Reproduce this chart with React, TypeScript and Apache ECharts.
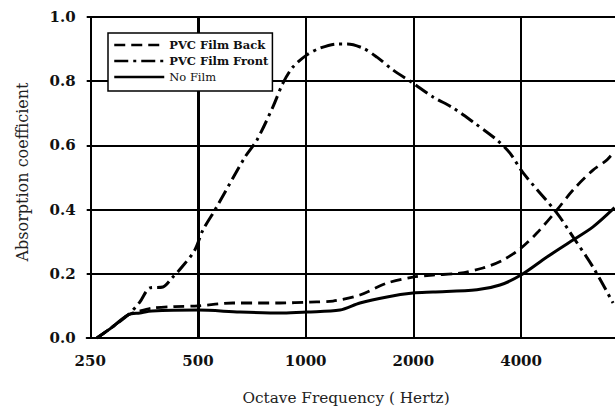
import React, { useEffect, useRef } from "react";
import * as echarts from "echarts";

// Octave-band tick labels (Hz)
const X_TICK_LABELS = [250, 500, 1000, 2000, 4000];
const BASE_FREQ = 250;

// PVC Film Back (dashed)
const FREQ_BACK = [261, 288, 319, 344, 372, 431, 500, 626, 847, 1028, 1192, 1418, 1688, 1995, 2269, 2699, 3130, 3560, 3998, 4429, 5038, 5588, 6354, 6954, 7300];
const ABS_BACK = [0, 0.034, 0.072, 0.084, 0.093, 0.098, 0.1, 0.109, 0.109, 0.112, 0.115, 0.134, 0.171, 0.19, 0.196, 0.202, 0.218, 0.243, 0.28, 0.327, 0.399, 0.461, 0.523, 0.555, 0.582];

// PVC Film Front (dash-dot)
const FREQ_FRONT = [261, 288, 319, 344, 367, 399, 423, 451, 490, 516, 558, 677, 731, 810, 864, 921, 1008, 1097, 1223, 1305, 1446, 1582, 1754, 1995, 2269, 2580, 2935, 3425, 3724, 4049, 5038, 5588, 6354, 7230];
const ABS_FRONT = [0, 0.034, 0.072, 0.112, 0.156, 0.159, 0.187, 0.221, 0.274, 0.336, 0.399, 0.564, 0.617, 0.72, 0.794, 0.844, 0.882, 0.903, 0.916, 0.916, 0.903, 0.875, 0.835, 0.794, 0.751, 0.717, 0.673, 0.617, 0.576, 0.515, 0.389, 0.315, 0.221, 0.109];

// No Film (solid)
const FREQ_NONE = [261, 288, 319, 344, 372, 500, 655, 864, 1008, 1247, 1418, 1688, 1995, 2269, 3011, 3492, 3998, 4723, 5588, 6354, 7300];
const ABS_NONE = [0, 0.034, 0.072, 0.078, 0.084, 0.087, 0.081, 0.078, 0.081, 0.087, 0.109, 0.128, 0.14, 0.143, 0.15, 0.165, 0.196, 0.252, 0.305, 0.346, 0.406];

const toOct = (f: number) => Math.log2(f / BASE_FREQ);
const pairs = (fs: number[], ys: number[]) => fs.map((f, i) => [toOct(f), ys[i]]);

const SERIF = '"DejaVu Serif", "Liberation Serif", serif';

export default function App() {
  const ref = useRef<HTMLDivElement>(null);
  useEffect(() => {
    const chart = echarts.init(ref.current as HTMLDivElement, null, { renderer: "svg" });
    const gridLines = X_TICK_LABELS.slice(1).map((f, i) => ({
      xAxis: toOct(f),
      lineStyle: { color: "#000", width: i === 0 ? 3 : 2, type: "solid" },
    }));
    chart.setOption({
      animation: false,
      backgroundColor: "#fff",
      grid: { left: 86.7, right: 0, top: 17, bottom: 74, containLabel: false, outerBoundsMode: "none" },
      xAxis: {
        type: "value",
        min: -0.033,
        max: 4.872,
        axisLine: { lineStyle: { color: "#000", width: 2 } },
        axisTick: { show: false },
        splitLine: { show: false },
        axisLabel: {
          customValues: X_TICK_LABELS.map(toOct),
          formatter: (v: number) => {
            const r = Math.round(v);
            if (Math.abs(v - r) > 0.01 || r < 0) return "";
            return String(BASE_FREQ * Math.pow(2, r));
          },
          margin: 15,
          fontFamily: SERIF,
          fontWeight: "bold",
          fontSize: 15,
          color: "#111",
        },
      },
      yAxis: {
        type: "value",
        min: 0,
        max: 1,
        interval: 0.2,
        axisLine: { show: true, lineStyle: { color: "#000", width: 2 } },
        axisTick: { show: false },
        splitLine: { show: true, lineStyle: { color: "#000", width: 2 } },
        axisLabel: {
          formatter: (v: number) => v.toFixed(1),
          margin: 11,
          fontFamily: SERIF,
          fontWeight: "bold",
          fontSize: 15,
          color: "#111",
        },
      },
      legend: {
        left: 108,
        top: 33,
        orient: "vertical",
        itemWidth: 50,
        itemHeight: 14,
        itemGap: 4,
        padding: [6, 4, 8, 5],
        borderColor: "#000",
        borderWidth: 1.5,
        borderRadius: 0,
        backgroundColor: "#fff",
        selectedMode: false,
        itemStyle: { opacity: 0, borderWidth: 0 },
        lineStyle: { opacity: 1, width: 2.5 },
        textStyle: { fontFamily: SERIF, fontSize: 11.5, fontWeight: "bold", color: "#111" },
        data: [
          { name: "PVC Film Back" },
          { name: "PVC Film Front" },
          { name: "No Film", textStyle: { fontWeight: "normal" } },
        ],
        z: 10,
      },
      graphic: [
        {
          type: "text",
          x: 22,
          y: 172,
          rotation: Math.PI / 2,
          style: {
            text: "Absorption coefficient",
            font: `16px ${SERIF}`,
            fill: "#222",
            align: "center",
            verticalAlign: "middle",
            textAlign: "center",
            textVerticalAlign: "middle",
          },
        },
        {
          type: "text",
          x: 346,
          y: 398,
          style: {
            text: "Octave Frequency ( Hertz)",
            font: `15.3px ${SERIF}`,
            fill: "#222",
            align: "center",
            verticalAlign: "middle",
            textAlign: "center",
            textVerticalAlign: "middle",
          },
        },
      ],
      series: [
        {
          name: "PVC Film Back",
          type: "line",
          data: pairs(FREQ_BACK, ABS_BACK),
          symbol: "none",
          smooth: 0.3,
          itemStyle: { color: "#000" },
          lineStyle: { color: "#000", width: 2.8, type: [11, 6] },
          z: 3,
          markLine: {
            silent: true,
            symbol: "none",
            label: { show: false },
            emphasis: { disabled: true },
            data: gridLines,
            z: 1,
          },
        },
        {
          name: "PVC Film Front",
          type: "line",
          data: pairs(FREQ_FRONT, ABS_FRONT),
          symbol: "none",
          smooth: 0.3,
          itemStyle: { color: "#000" },
          lineStyle: { color: "#000", width: 3, type: [14, 5, 3, 5] },
          z: 3,
        },
        {
          name: "No Film",
          type: "line",
          data: pairs(FREQ_NONE, ABS_NONE),
          symbol: "none",
          smooth: 0.3,
          itemStyle: { color: "#000" },
          lineStyle: { color: "#000", width: 3, type: "solid" },
          z: 3,
        },
      ],
    });
    return () => chart.dispose();
  }, []);
  return (
    <div
      ref={ref}
      style={{ position: "absolute", left: 0, top: 0, width: 615, height: 412, background: "#fff" }}
    />
  );
}
